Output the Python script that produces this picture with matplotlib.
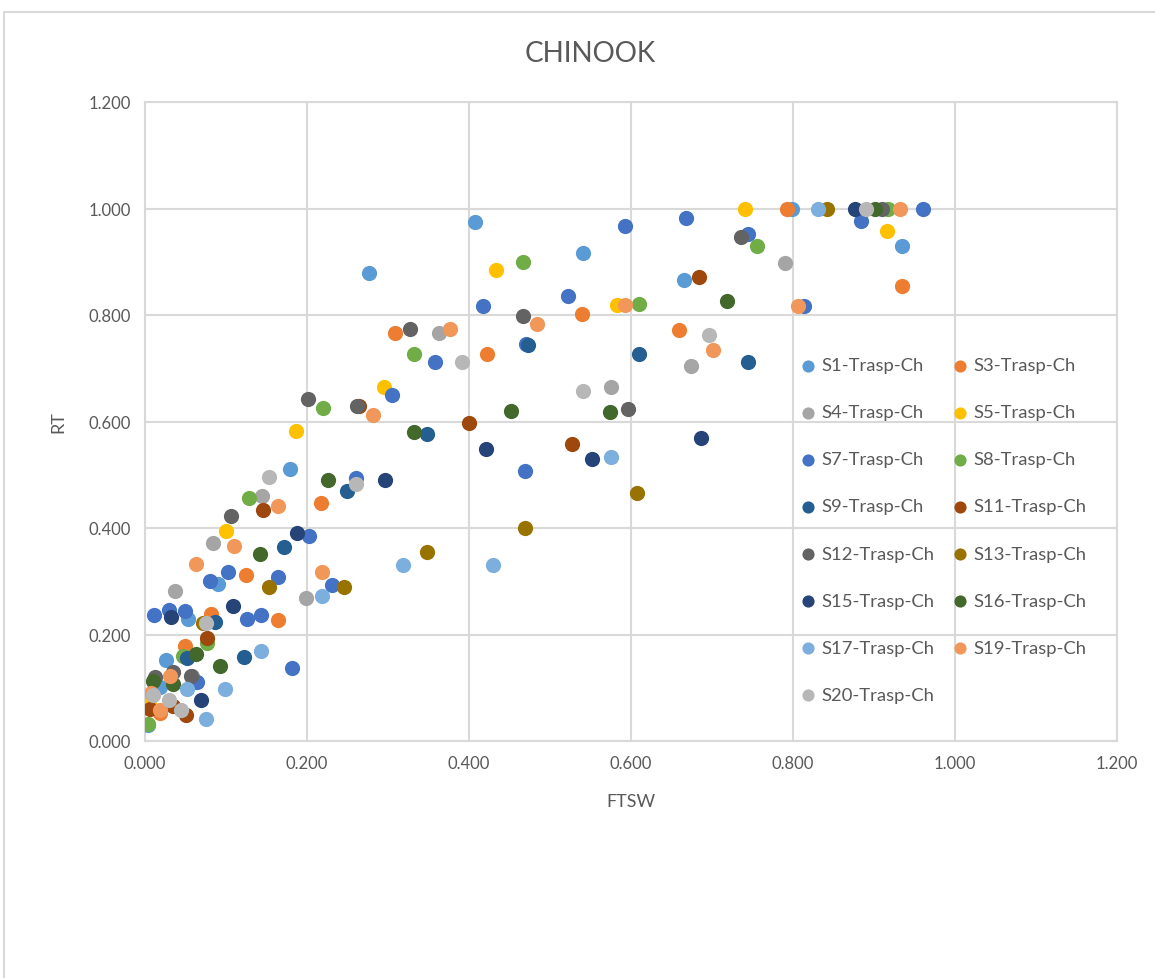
import matplotlib
matplotlib.use("Agg")
import matplotlib.pyplot as plt
from matplotlib.patches import Rectangle
from matplotlib.ticker import FuncFormatter, MultipleLocator

plt.rcParams["font.family"] = ["Lato", "DejaVu Sans"]

TEXT = "#595959"
GRID = "#D9D9D9"

# FTSW / RT pairs per series
s1_x = [0.799, 0.934, 0.541, 0.665, 0.277, 0.407, 0.179, 0.090, 0.053, 0.026, 0.019, 0.004]
s1_y = [1.000, 0.930, 0.917, 0.865, 0.878, 0.974, 0.511, 0.295, 0.229, 0.152, 0.102, 0.030]

s3_x = [0.793, 0.934, 0.540, 0.659, 0.309, 0.422, 0.217, 0.125, 0.081, 0.164, 0.019, 0.049]
s3_y = [1.000, 0.855, 0.801, 0.771, 0.767, 0.727, 0.447, 0.312, 0.238, 0.227, 0.053, 0.179]

s4_x = [0.790, 0.674, 0.575, 0.363, 0.145, 0.084, 0.037, 0.199, 0.058]
s4_y = [0.898, 0.705, 0.665, 0.767, 0.461, 0.372, 0.282, 0.269, 0.122]

s5_x = [0.741, 0.916, 0.433, 0.583, 0.295, 0.187, 0.100, 0.005]
s5_y = [1.000, 0.958, 0.884, 0.818, 0.664, 0.582, 0.395, 0.070]

s7_x = [0.960, 0.884, 0.668, 0.593, 0.744, 0.813, 0.522, 0.417, 0.358, 0.305, 0.469, 0.260,
        0.202, 0.103, 0.080, 0.164, 0.231, 0.011, 0.030, 0.049, 0.126, 0.143, 0.181, 0.064, 0.470]
s7_y = [1.000, 0.977, 0.983, 0.968, 0.953, 0.816, 0.835, 0.816, 0.712, 0.650, 0.507, 0.494,
        0.385, 0.317, 0.301, 0.308, 0.293, 0.237, 0.246, 0.244, 0.229, 0.237, 0.137, 0.111, 0.745]

s8_x = [0.917, 0.756, 0.467, 0.610, 0.332, 0.220, 0.129, 0.076, 0.047, 0.004]
s8_y = [1.000, 0.929, 0.900, 0.820, 0.727, 0.626, 0.457, 0.184, 0.160, 0.032]

s9_x = [0.610, 0.745, 0.473, 0.348, 0.249, 0.171, 0.086, 0.052, 0.122]
s9_y = [0.726, 0.711, 0.744, 0.577, 0.470, 0.364, 0.224, 0.156, 0.158]

s11_x = [0.684, 0.527, 0.264, 0.400, 0.146, 0.077, 0.006, 0.050, 0.035]
s11_y = [0.872, 0.558, 0.630, 0.598, 0.434, 0.194, 0.060, 0.049, 0.066]

s12_x = [0.910, 0.736, 0.467, 0.327, 0.596, 0.262, 0.201, 0.106, 0.035, 0.012, 0.057]
s12_y = [1.000, 0.947, 0.799, 0.773, 0.624, 0.630, 0.643, 0.423, 0.130, 0.120, 0.122]

s13_x = [0.842, 0.607, 0.469, 0.348, 0.246, 0.153, 0.072]
s13_y = [1.000, 0.466, 0.400, 0.355, 0.289, 0.289, 0.222]

s15_x = [0.877, 0.686, 0.552, 0.421, 0.296, 0.188, 0.109, 0.032, 0.069]
s15_y = [1.000, 0.569, 0.530, 0.549, 0.490, 0.391, 0.254, 0.233, 0.077]

s16_x = [0.901, 0.719, 0.574, 0.452, 0.332, 0.226, 0.142, 0.063, 0.093, 0.010, 0.035]
s16_y = [1.000, 0.827, 0.618, 0.620, 0.581, 0.490, 0.351, 0.163, 0.140, 0.113, 0.107]

s17_x = [0.831, 0.575, 0.319, 0.430, 0.219, 0.143, 0.099, 0.052, 0.075]
s17_y = [1.000, 0.534, 0.330, 0.330, 0.273, 0.169, 0.098, 0.098, 0.041]

s19_x = [0.932, 0.806, 0.593, 0.701, 0.484, 0.377, 0.282, 0.164, 0.110, 0.063, 0.219, 0.031,
         0.019, 0.008]
s19_y = [1.000, 0.816, 0.818, 0.735, 0.784, 0.774, 0.613, 0.441, 0.367, 0.333, 0.317, 0.122,
         0.058, 0.090]

s20_x = [0.890, 0.696, 0.541, 0.391, 0.260, 0.153, 0.075, 0.010, 0.030, 0.044]
s20_y = [1.000, 0.763, 0.658, 0.711, 0.483, 0.496, 0.222, 0.087, 0.077, 0.058]

series = [
    ("S1-Trasp-Ch", s1_x, s1_y, "#5B9BD5"),
    ("S3-Trasp-Ch", s3_x, s3_y, "#ED7D31"),
    ("S4-Trasp-Ch", s4_x, s4_y, "#A5A5A5"),
    ("S5-Trasp-Ch", s5_x, s5_y, "#FFC000"),
    ("S7-Trasp-Ch", s7_x, s7_y, "#4472C4"),
    ("S8-Trasp-Ch", s8_x, s8_y, "#70AD47"),
    ("S9-Trasp-Ch", s9_x, s9_y, "#255E91"),
    ("S11-Trasp-Ch", s11_x, s11_y, "#9E480E"),
    ("S12-Trasp-Ch", s12_x, s12_y, "#636363"),
    ("S13-Trasp-Ch", s13_x, s13_y, "#997300"),
    ("S15-Trasp-Ch", s15_x, s15_y, "#264478"),
    ("S16-Trasp-Ch", s16_x, s16_y, "#43682B"),
    ("S17-Trasp-Ch", s17_x, s17_y, "#7CAFDD"),
    ("S19-Trasp-Ch", s19_x, s19_y, "#F1975A"),
    ("S20-Trasp-Ch", s20_x, s20_y, "#B7B7B7"),
]

fig = plt.figure(figsize=(11.55, 9.79), dpi=100)
ax = fig.add_axes([145 / 1155, 1 - 742 / 979, (1117 - 145) / 1155, (742 - 103) / 979])

handles = []
for name, xs, ys, color in series:
    h = ax.scatter(xs, ys, s=120, color=color, linewidths=0, label=name, zorder=3)
    handles.append(h)

ax.set_xlim(0, 1.2)
ax.set_ylim(0, 1.2)
ax.xaxis.set_major_locator(MultipleLocator(0.2))
ax.yaxis.set_major_locator(MultipleLocator(0.2))
fmt = FuncFormatter(lambda v, _: f"{v:.3f}")
ax.xaxis.set_major_formatter(fmt)
ax.yaxis.set_major_formatter(fmt)
ax.grid(True, color=GRID, linewidth=1.5, zorder=0)
ax.set_axisbelow(True)
for sp in ax.spines.values():
    sp.set_color(GRID)
    sp.set_linewidth(1.5)
ax.tick_params(length=0, labelsize=12, labelcolor=TEXT, pad=10)

ax.set_xlabel("FTSW", fontsize=13, color=TEXT, labelpad=16)
ax.set_ylabel("RT", fontsize=13, color=TEXT, labelpad=16)
fig.text(590 / 1155, 1 - 54 / 979, "CHINOOK", ha="center", va="center",
         fontsize=20, color=TEXT)

# legend reads row-wise: reorder for matplotlib's column-wise fill
order = list(range(0, 15, 2)) + list(range(1, 15, 2))
leg = ax.legend([handles[i] for i in order], [series[i][0] for i in order],
                ncol=2, loc="upper left", bbox_to_anchor=(790 / 1155, 1 - 351 / 979),
                bbox_transform=fig.transFigure, frameon=False, fontsize=13.3,
                labelspacing=1.68, columnspacing=0.8, handletextpad=0.1,
                handlelength=1.2, markerscale=0.8, borderaxespad=0)
for t in leg.get_texts():
    t.set_color(TEXT)

# outer chart frame
fig.add_artist(Rectangle((4 / 1155, -0.05), 1.2, 1 - 13 / 979 + 0.05,
                         transform=fig.transFigure, fill=False,
                         edgecolor=GRID, linewidth=1.5))

fig.savefig("out.png", dpi=100)
